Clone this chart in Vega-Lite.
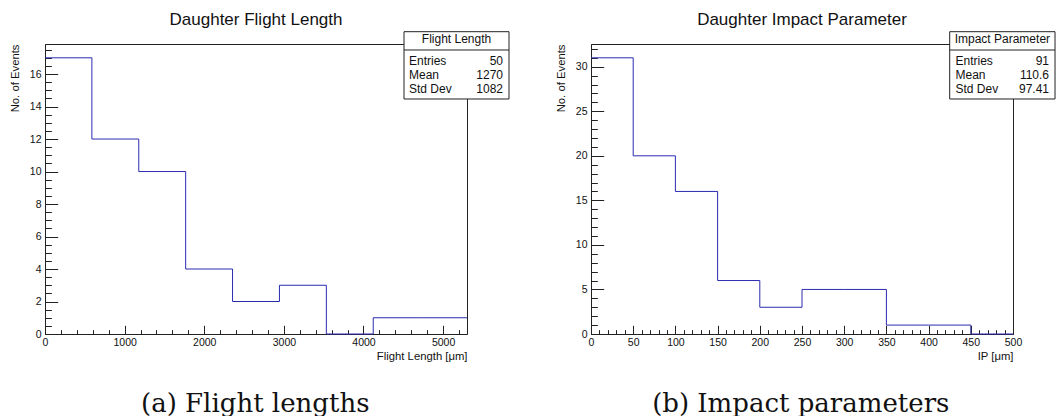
{
  "$schema": "https://vega.github.io/schema/vega-lite/v6.json",
  "background": "white",
  "padding": {"left": 8, "top": 10, "right": 0, "bottom": 0},
  "spacing": 43,
  "datasets": {
    "fl": [
      {"edge": 0, "n": 17}, {"edge": 588.9, "n": 12}, {"edge": 1177.8, "n": 10},
      {"edge": 1766.7, "n": 4}, {"edge": 2355.6, "n": 2}, {"edge": 2944.4, "n": 3},
      {"edge": 3533.3, "n": 0}, {"edge": 4122.2, "n": 1}, {"edge": 4711.1, "n": 1},
      {"edge": 5300, "n": 1}
    ],
    "ip": [
      {"edge": 0, "n": 31}, {"edge": 50, "n": 20}, {"edge": 100, "n": 16},
      {"edge": 150, "n": 6}, {"edge": 200, "n": 3}, {"edge": 250, "n": 5},
      {"edge": 300, "n": 5}, {"edge": 350, "n": 1}, {"edge": 400, "n": 1},
      {"edge": 450, "n": 0}, {"edge": 500, "n": 0}
    ],
    "flstats": [
      {"stat": "Entries", "value": "50"},
      {"stat": "Mean", "value": "1270"},
      {"stat": "Std Dev", "value": "1082"}
    ],
    "ipstats": [
      {"stat": "Entries", "value": "91"},
      {"stat": "Mean", "value": "110.6"},
      {"stat": "Std Dev", "value": "97.41"}
    ],
    "one": [{}]
  },
  "config": {
    "view": {"stroke": "#222", "strokeWidth": 1},
    "font": "Liberation Sans",
    "axis": {
      "grid": false, "domainColor": "#222", "tickColor": "#222",
      "labelColor": "#111", "titleColor": "#111",
      "labelFont": "Liberation Sans", "titleFont": "Liberation Sans",
      "titleFontWeight": "normal", "labelFontSize": 10.5, "titleFontSize": 11.3,
      "labelFlush": false, "labelOverlap": false, "format": "d"
    },
    "title": {"font": "Liberation Sans", "fontWeight": "normal", "color": "#111"},
    "text": {"font": "Liberation Sans", "fontSize": 12, "color": "#111"}
  },
  "hconcat": [
    {
      "title": {"text": "(a) Flight lengths", "orient": "bottom", "font": "DejaVu Serif", "fontSize": 26, "baseline": "alphabetic", "offset": 50, "anchor": "middle", "dx": -4},
      "vconcat": [
        {
          "width": 422, "height": 290,
          "title": {"text": "Daughter Flight Length", "frame": "group", "fontSize": 17, "baseline": "alphabetic", "offset": -11, "anchor": "middle"},
          "resolve": {"scale": {"y": "independent"}, "axis": {"x": "independent", "y": "independent"}},
          "layer": [
            {
              "data": {"name": "fl"},
              "mark": {"type": "line", "interpolate": "step-after", "color": "#2b2bb0", "strokeWidth": 1},
              "encoding": {
                "x": {"field": "edge", "type": "quantitative", "scale": {"domain": [0, 5300], "nice": false, "zero": false},
                  "axis": {"orient": "bottom", "values": [0, 1000, 2000, 3000, 4000, 5000], "format": "d", "tickSize": -8.7, "labelPadding": 12, "title": "Flight Length [μm]", "titleAnchor": "end", "titleAlign": "right", "titleBaseline": "alphabetic", "titleY": 25}},
                "y": {"field": "n", "type": "quantitative", "scale": {"domain": [0, 17.85], "nice": false, "zero": false},
                  "axis": {"orient": "left", "values": [0, 2, 4, 6, 8, 10, 12, 14, 16], "format": "d", "tickSize": -12.7, "labelPadding": 16.7, "title": "No. of Events", "titleAnchor": "end", "titleAlign": "right", "titleAngle": 270, "titleBaseline": "alphabetic", "titleX": -27}}
              }
            },
            {
              "data": {"name": "fl"},
              "mark": {"type": "line", "strokeOpacity": 0},
              "encoding": {
                "x": {"field": "edge", "type": "quantitative", "scale": {"domain": [0, 5300], "nice": false, "zero": false},
                  "axis": {"orient": "bottom", "values": [0,200,400,600,800,1000,1200,1400,1600,1800,2000,2200,2400,2600,2800,3000,3200,3400,3600,3800,4000,4200,4400,4600,4800,5000,5200], "tickSize": -4.35, "labels": false, "domain": false, "title": null}},
                "y": {"field": "n", "type": "quantitative", "scale": {"domain": [0, 17.85], "nice": false, "zero": false},
                  "axis": {"orient": "left", "values": [0,0.5,1,1.5,2,2.5,3,3.5,4,4.5,5,5.5,6,6.5,7,7.5,8,8.5,9,9.5,10,10.5,11,11.5,12,12.5,13,13.5,14,14.5,15,15.5,16,16.5,17,17.5], "tickSize": -6.35, "labels": false, "domain": false, "title": null}}
              }
            },
            {
              "data": {"name": "one"},
              "mark": {"type": "rect", "fill": "white", "stroke": "#222", "strokeWidth": 1},
              "encoding": {
                "x": {"datum": 4508.8, "type": "quantitative", "axis": null},
                "x2": {"datum": 5827.5},
                "y": {"datum": 18.607, "type": "quantitative", "scale": {"domain": [0, 17.85], "nice": false, "zero": false}, "axis": null},
                "y2": {"datum": 14.465}
              }
            },
            {
              "data": {"name": "one"},
              "mark": {"type": "rule", "color": "#222", "strokeWidth": 1},
              "encoding": {
                "x": {"datum": 4508.8, "type": "quantitative", "axis": null},
                "x2": {"datum": 5827.5},
                "y": {"datum": 17.481, "type": "quantitative", "scale": {"domain": [0, 17.85], "nice": false, "zero": false}, "axis": null}
              }
            },
            {
              "data": {"name": "one"},
              "mark": {"type": "text", "text": "Flight Length", "align": "center", "baseline": "alphabetic"},
              "encoding": {
                "x": {"datum": 5168.1, "type": "quantitative", "axis": null},
                "y": {"datum": 17.93, "type": "quantitative", "scale": {"domain": [0, 17.85], "nice": false, "zero": false}, "axis": null}
              }
            },
            {
              "data": {"name": "flstats"},
              "mark": {"type": "text", "align": "left", "baseline": "alphabetic"},
              "encoding": {
                "x": {"datum": 4571.5, "type": "quantitative", "axis": null},
                "y": {"field": "stat", "type": "ordinal", "scale": {"type": "point", "domain": ["Entries", "Mean", "Std Dev"], "range": [21, 49.3], "padding": 0}, "axis": null},
                "text": {"field": "stat"}
              }
            },
            {
              "data": {"name": "flstats"},
              "mark": {"type": "text", "align": "right", "baseline": "alphabetic"},
              "encoding": {
                "x": {"datum": 5752.1, "type": "quantitative", "axis": null},
                "y": {"field": "stat", "type": "ordinal", "scale": {"type": "point", "domain": ["Entries", "Mean", "Std Dev"], "range": [21, 49.3], "padding": 0}, "axis": null},
                "text": {"field": "value"}
              }
            }
          ]
        }
      ]
    },
    {
      "title": {"text": "(b) Impact parameters", "orient": "bottom", "font": "DejaVu Serif", "fontSize": 26, "baseline": "alphabetic", "offset": 50, "anchor": "middle", "dx": -4.5},
      "vconcat": [
        {
          "width": 422, "height": 290,
          "title": {"text": "Daughter Impact Parameter", "frame": "group", "fontSize": 17, "baseline": "alphabetic", "offset": -11, "anchor": "middle"},
          "resolve": {"scale": {"y": "independent"}, "axis": {"x": "independent", "y": "independent"}},
          "layer": [
            {
              "data": {"name": "ip"},
              "mark": {"type": "line", "interpolate": "step-after", "color": "#2b2bb0", "strokeWidth": 1},
              "encoding": {
                "x": {"field": "edge", "type": "quantitative", "scale": {"domain": [0, 500], "nice": false, "zero": false},
                  "axis": {"orient": "bottom", "values": [0, 50, 100, 150, 200, 250, 300, 350, 400, 450, 500], "format": "d", "tickSize": -8.7, "labelPadding": 12, "title": "IP [μm]", "titleAnchor": "end", "titleAlign": "right", "titleBaseline": "alphabetic", "titleY": 25}},
                "y": {"field": "n", "type": "quantitative", "scale": {"domain": [0, 32.55], "nice": false, "zero": false},
                  "axis": {"orient": "left", "values": [0, 5, 10, 15, 20, 25, 30], "format": "d", "tickSize": -12.7, "labelPadding": 16.7, "title": "No. of Events", "titleAnchor": "end", "titleAlign": "right", "titleAngle": 270, "titleBaseline": "alphabetic", "titleX": -27}}
              }
            },
            {
              "data": {"name": "ip"},
              "mark": {"type": "line", "strokeOpacity": 0},
              "encoding": {
                "x": {"field": "edge", "type": "quantitative", "scale": {"domain": [0, 500], "nice": false, "zero": false},
                  "axis": {"orient": "bottom", "values": [0,10,20,30,40,50,60,70,80,90,100,110,120,130,140,150,160,170,180,190,200,210,220,230,240,250,260,270,280,290,300,310,320,330,340,350,360,370,380,390,400,410,420,430,440,450,460,470,480,490,500], "tickSize": -4.35, "labels": false, "domain": false, "title": null}},
                "y": {"field": "n", "type": "quantitative", "scale": {"domain": [0, 32.55], "nice": false, "zero": false},
                  "axis": {"orient": "left", "values": [0,1,2,3,4,5,6,7,8,9,10,11,12,13,14,15,16,17,18,19,20,21,22,23,24,25,26,27,28,29,30,31,32], "tickSize": -6.35, "labels": false, "domain": false, "title": null}}
              }
            },
            {
              "data": {"name": "one"},
              "mark": {"type": "rect", "fill": "white", "stroke": "#222", "strokeWidth": 1},
              "encoding": {
                "x": {"datum": 425.0, "type": "quantitative", "axis": null},
                "x2": {"datum": 549.8},
                "y": {"datum": 33.931, "type": "quantitative", "scale": {"domain": [0, 32.55], "nice": false, "zero": false}, "axis": null},
                "y2": {"datum": 26.377}
              }
            },
            {
              "data": {"name": "one"},
              "mark": {"type": "rule", "color": "#222", "strokeWidth": 1},
              "encoding": {
                "x": {"datum": 425.0, "type": "quantitative", "axis": null},
                "x2": {"datum": 549.8},
                "y": {"datum": 31.876, "type": "quantitative", "scale": {"domain": [0, 32.55], "nice": false, "zero": false}, "axis": null}
              }
            },
            {
              "data": {"name": "one"},
              "mark": {"type": "text", "text": "Impact Parameter", "align": "center", "baseline": "alphabetic"},
              "encoding": {
                "x": {"datum": 487.4, "type": "quantitative", "axis": null},
                "y": {"datum": 32.696, "type": "quantitative", "scale": {"domain": [0, 32.55], "nice": false, "zero": false}, "axis": null}
              }
            },
            {
              "data": {"name": "ipstats"},
              "mark": {"type": "text", "align": "left", "baseline": "alphabetic"},
              "encoding": {
                "x": {"datum": 431.9, "type": "quantitative", "axis": null},
                "y": {"field": "stat", "type": "ordinal", "scale": {"type": "point", "domain": ["Entries", "Mean", "Std Dev"], "range": [21, 49.3], "padding": 0}, "axis": null},
                "text": {"field": "stat"}
              }
            },
            {
              "data": {"name": "ipstats"},
              "mark": {"type": "text", "align": "right", "baseline": "alphabetic"},
              "encoding": {
                "x": {"datum": 542.7, "type": "quantitative", "axis": null},
                "y": {"field": "stat", "type": "ordinal", "scale": {"type": "point", "domain": ["Entries", "Mean", "Std Dev"], "range": [21, 49.3], "padding": 0}, "axis": null},
                "text": {"field": "value"}
              }
            }
          ]
        }
      ]
    }
  ]
}
